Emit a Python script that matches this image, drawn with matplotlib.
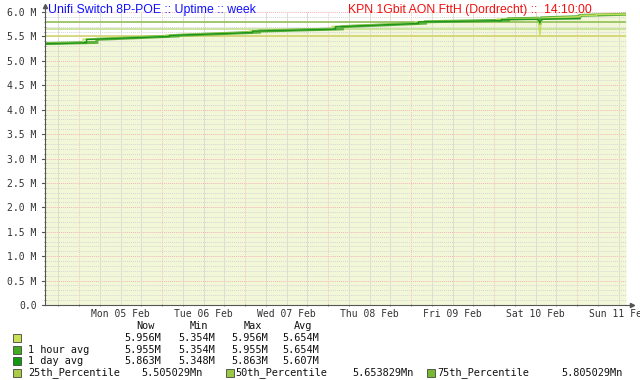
import matplotlib
matplotlib.use("Agg")
import matplotlib.pyplot as plt
from matplotlib.patches import Rectangle

# ---- data (hours since Sun 04 Feb 14:10, values in millions) ----
raw_h = [0, 11, 11, 34.7, 34.7, 59, 59, 83, 83, 107, 107, 130.7, 130.7, 142.6, 143.1, 143.6, 154.7, 154.7, 159.5, 159.5, 168]
raw_v = [5.354, 5.375, 5.445, 5.505, 5.525, 5.585, 5.612, 5.652, 5.705, 5.770, 5.803, 5.825, 5.855, 5.870, 5.530, 5.875, 5.905, 5.930, 5.935, 5.950, 5.956]

hour_h = [0, 15, 15, 38.5, 38.5, 62, 62, 86, 86, 110, 110, 134, 134, 142.6, 143.1, 143.6, 154.7, 154.7, 168]
hour_v = [5.354, 5.378, 5.440, 5.510, 5.522, 5.588, 5.610, 5.655, 5.700, 5.772, 5.800, 5.830, 5.860, 5.872, 5.740, 5.880, 5.905, 5.930, 5.955]

day_h = [0, 12, 12, 36, 36, 60, 60, 84, 84, 108, 108, 132, 132, 142.6, 143.1, 143.6, 154.7]
day_v = [5.348, 5.370, 5.438, 5.500, 5.520, 5.580, 5.608, 5.648, 5.698, 5.765, 5.798, 5.822, 5.845, 5.850, 5.780, 5.852, 5.863]

p25, p50, p75 = 5.505029, 5.653829, 5.805029

day_labels = ["Mon 05 Feb", "Tue 06 Feb", "Wed 07 Feb", "Thu 08 Feb",
              "Fri 09 Feb", "Sat 10 Feb", "Sun 11 Feb"]
first_midnight = 9 + 50 / 60.0   # hours from start to Mon 05 Feb 00:00
span_hours = 168

legend_header = ["Now", "Min", "Max", "Avg"]
legend_rows = [
    ("", ["5.956M", "5.354M", "5.956M", "5.654M"]),
    ("1 hour avg", ["5.955M", "5.354M", "5.955M", "5.654M"]),
    ("1 day avg", ["5.863M", "5.348M", "5.863M", "5.607M"]),
]
pct_names = ["25th_Percentile", "50th_Percentile", "75th_Percentile"]
pct_texts = ["5.505029Mn", "5.653829Mn", "5.805029Mn"]

title_left = "Unifi Switch 8P-POE :: Uptime :: week"
title_right = "KPN 1Gbit AON FttH (Dordrecht) ::  14:10:00"

# ---- colours ----
c_fill = "#F2F7D8"
c_raw = "#C4DE5C"
c_hour = "#5EB23C"
c_day = "#1E961E"
c_p25_line, c_p50_line, c_p75_line = "#D2D46E", "#C3DF92", "#92C056"
sw_colors = ["#CCE055", "#44AA22", "#119911", "#AACC44", "#99C844", "#77B833"]

W, H = 640, 380
fig = plt.figure(figsize=(W / 100, H / 100), dpi=100)
fig.patch.set_facecolor("white")
L, R, T, B = 45, 626, 12, 305
ax = fig.add_axes([L / W, 1 - B / H, (R - L) / W, (B - T) / H])
ax.set_xlim(0, span_hours)
ax.set_ylim(0, 6.0)
ax.set_facecolor("white")

# area + lines
ax.fill_between(raw_h, raw_v, 0, color=c_fill, lw=0, zorder=1)
ax.axhline(p25, color=c_p25_line, lw=1.2, zorder=4)
ax.axhline(p50, color=c_p50_line, lw=1.2, zorder=4)
ax.axhline(p75, color=c_p75_line, lw=1.2, zorder=4)
ax.plot(hour_h, hour_v, color=c_hour, lw=2.2, zorder=5, solid_joinstyle="miter")
ax.plot(raw_h, raw_v, color=c_raw, lw=1.0, zorder=6)
ax.plot(day_h, day_v, color=c_day, lw=1.1, zorder=7)

# grid
for k in range(61):
    v = k * 0.1
    if k % 5 == 0:
        ax.axhline(v, color="#F4B4B4", lw=0.7, ls=(0, (1, 1)), zorder=2)
    else:
        ax.axhline(v, color="#D6D6D6", lw=0.7, ls=(0, (1, 1)), zorder=2)
minor_start = first_midnight - 6
h = minor_start
vgrid = []
while h < span_hours:
    vgrid.append(h)
    h += 6
for h in vgrid:
    is_major = abs(((h - first_midnight) / 24.0) - round((h - first_midnight) / 24.0)) < 1e-6
    ax.axvline(h, color="#F4C4C4" if is_major else "#DEDED0",
               lw=0.7, ls=(0, (1, 1)) if is_major else "-", zorder=2)

# axes styling
for s in ["top", "right"]:
    ax.spines[s].set_visible(False)
for s in ["left", "bottom"]:
    ax.spines[s].set_color("#555555")
    ax.spines[s].set_linewidth(0.8)
    ax.spines[s].set_zorder(8)

yt = [k * 0.5 for k in range(13)]
ax.set_yticks(yt)
ax.set_yticklabels(["0.0"] + ["%.1f M" % v for v in yt[1:]])
ax.set_yticks([k * 0.1 for k in range(61)], minor=True)
ax.set_xticks([first_midnight + 12 + 24 * k for k in range(7)])
ax.set_xticklabels(day_labels)
ax.set_xticks(vgrid, minor=True)
mono = "DejaVu Sans Mono"
ax.tick_params(axis="y", which="major", length=0, labelsize=7,
               labelcolor="#333333", pad=6)
ax.tick_params(axis="x", which="major", length=0, labelsize=7,
               labelcolor="#333333", pad=3)
ax.tick_params(axis="y", which="minor", length=2, direction="inout", color="#666666", width=0.6)
ax.tick_params(axis="x", which="minor", length=2, direction="inout", color="#666666", width=0.6)
for lab in ax.get_xticklabels() + ax.get_yticklabels():
    lab.set_family(mono)
for v in yt:
    ax.plot([-1.0, 0], [v, v], color="#555555", lw=0.8, clip_on=False, zorder=9)

# arrows
ax.plot([0, 0], [6.0, 6.1], color="#555555", lw=0.8, clip_on=False, zorder=9)
ax.plot(0, 6.12, marker="^", ms=3, color="#555555", clip_on=False, zorder=9)
ax.plot([168, 169.5], [0, 0], color="#555555", lw=0.8, clip_on=False, zorder=9)
ax.plot(169.8, 0, marker=">", ms=3, color="#555555", clip_on=False, zorder=9)

# titles
fig.text(48 / W, 1 - 10 / H, title_left, color="#1010FF", fontsize=8.8,
         family="Liberation Sans", va="center", ha="left")
fig.text(348 / W, 1 - 10 / H, title_right, color="#F01010", fontsize=8.8,
         family="Liberation Sans", va="center", ha="left")

# legend
fs = 7.4
col_x = [124, 178, 231, 282]
hdr_x = [136, 190, 244, 294]
for t, x in zip(legend_header, hdr_x):
    fig.text(x / W, 1 - 326 / H, t, family=mono, fontsize=fs, color="#111111", va="center")
row_y = [338, 350, 361]
for (name, vals), y, c in zip(legend_rows, row_y, sw_colors[:3]):
    fig.patches.append(Rectangle((13 / W, 1 - (y + 4) / H), 8 / W, 8 / H,
                                 transform=fig.transFigure, facecolor=c,
                                 edgecolor="#444444", lw=0.6))
    fig.text(28 / W, 1 - y / H, name, family=mono, fontsize=fs, color="#111111", va="center")
    for v, x in zip(vals, col_x):
        fig.text(x / W, 1 - y / H, v, family=mono, fontsize=fs, color="#111111", va="center")
y = 373
sw_x = [13, 226, 427]
name_x = [28, 235, 437]
val_x = [141, 352, 561]
for i in range(3):
    fig.patches.append(Rectangle((sw_x[i] / W, 1 - (y + 4) / H), 8 / W, 8 / H,
                                 transform=fig.transFigure, facecolor=sw_colors[3 + i],
                                 edgecolor="#444444", lw=0.6))
    fig.text(name_x[i] / W, 1 - y / H, pct_names[i], family=mono, fontsize=fs, color="#111111", va="center")
    fig.text(val_x[i] / W, 1 - y / H, pct_texts[i], family=mono, fontsize=fs, color="#111111", va="center")

fig.savefig("out.png", dpi=100, facecolor="white")
